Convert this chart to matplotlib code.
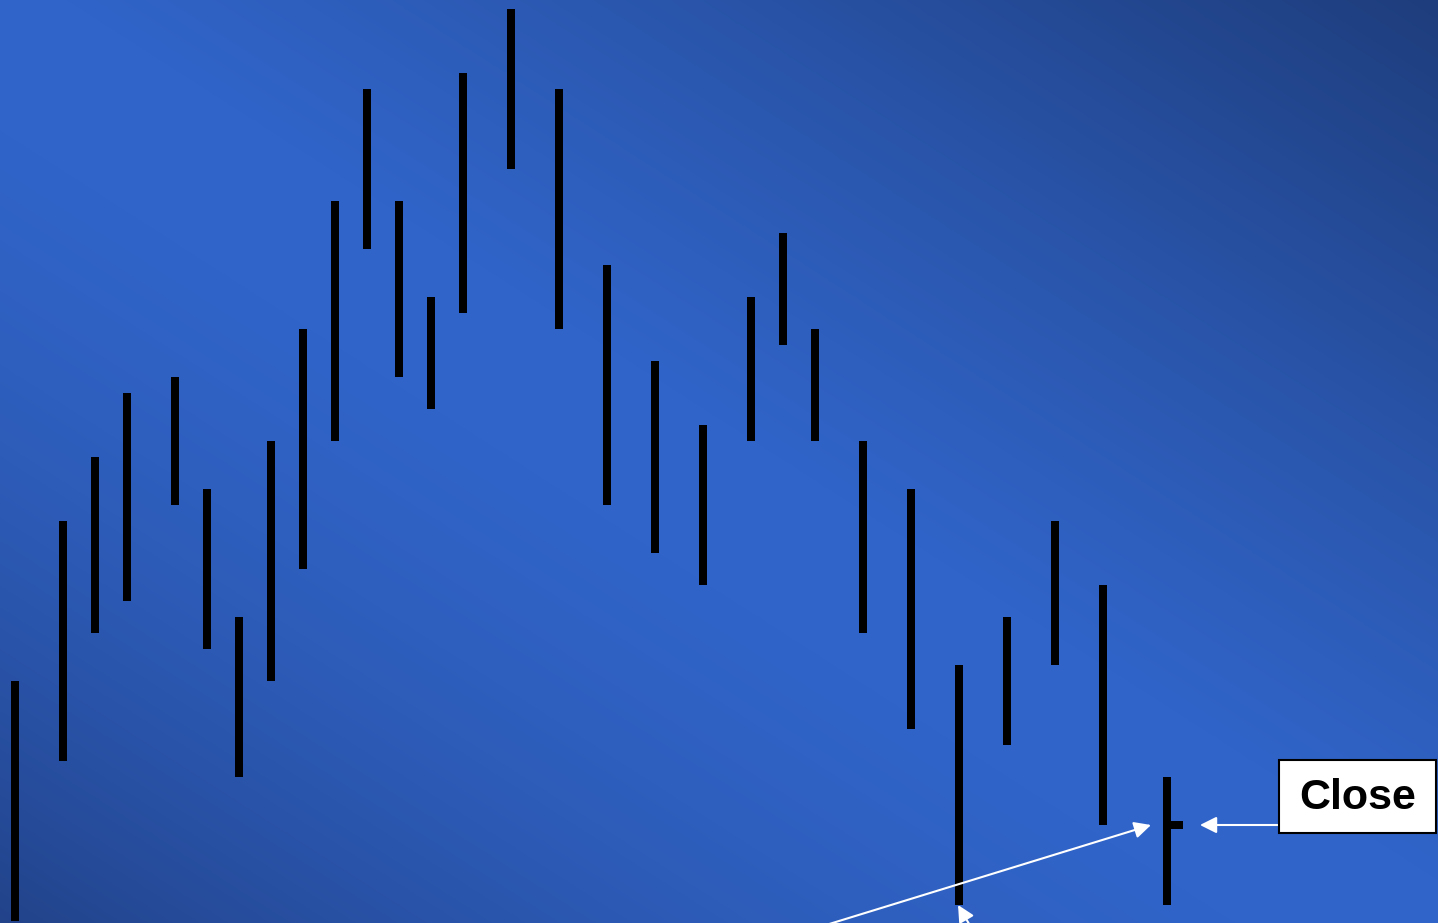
import numpy as np
import matplotlib
matplotlib.use("Agg")
import matplotlib.pyplot as plt
from matplotlib.patches import Rectangle

# =========================
# 1. 数据 (bar chart: high / low, last bar has close)
# =========================
days = [0, 3, 5, 7, 10, 12, 14, 16, 18, 20, 22, 24, 26, 28, 31,
        34, 37, 40, 43, 46, 48, 50, 53, 56, 59, 62, 65, 68, 72]
highs = [16, 26, 30, 34, 35, 28, 20, 31, 38, 46, 53, 46, 40, 54, 58,
         53, 42, 36, 32, 40, 44, 38, 31, 28, 17, 20, 26, 22, 10]
lows = [1, 11, 19, 21, 27, 18, 10, 16, 23, 31, 43, 35, 33, 39, 48,
        38, 27, 24, 22, 31, 37, 31, 19, 13, 2, 12, 17, 7, 2]
last_close = 7
label_text = "Close"

# =========================
# 2. 画布
# =========================
W, H = 1438, 923
fig = plt.figure(figsize=(W / 100, H / 100), dpi=100)
ax = fig.add_axes([0, 0, 1, 1])
ax.set_xlim(-15 / 16, (W - 15) / 16)
ax.set_ylim(0.875, 937 / 16)
ax.axis("off")

# 背景渐变：对角线附近较亮，右上和左下较暗
u = np.linspace(0, 1, W)[None, :]
v = np.linspace(0, 1, H)[:, None]
d = u - v
light = np.array([0x31, 0x65, 0xCA]) / 255
dark_tr = np.array([0x1E, 0x3D, 0x7C]) / 255
dark_bl = np.array([0x22, 0x43, 0x8A]) / 255
t_tr = np.clip(d, 0, 1) ** 1.2
t_bl = np.clip(-d, 0, 1) ** 1.8
bg = (light * (1 - t_tr[..., None] - t_bl[..., None])
      + dark_tr * t_tr[..., None] + dark_bl * t_bl[..., None])
ax.imshow(bg, extent=[0, 1, 0, 1], transform=ax.transAxes,
          aspect="auto", zorder=0)

# =========================
# 3. 柱线
# =========================
lw = 8 * 72 / 100
ax.vlines(days, lows, highs, colors="black", linewidth=lw,
          capstyle="butt", zorder=2)
ax.hlines([last_close], [days[-1]], [days[-1] + 1], colors="black",
          linewidth=lw, capstyle="butt", zorder=2)

# =========================
# 4. 标注
# =========================
arrow_kw = dict(arrowstyle="-|>,head_length=1.0,head_width=0.5",
                color="white", lw=1.5, shrinkA=0, shrinkB=0,
                mutation_scale=10)

ax.annotate("", xy=(days[-1] - 1.0, last_close), xytext=(45, -1.0),
            arrowprops=arrow_kw, annotation_clip=False, zorder=3)
ax.annotate("", xy=(days[24] - 0.06, lows[24]), xytext=(60.8, -1.2),
            arrowprops=arrow_kw, annotation_clip=False, zorder=3)
ax.annotate("", xy=(days[-1] + 2.06, last_close), xytext=(79.0, last_close),
            arrowprops=arrow_kw, annotation_clip=False, zorder=3)

box = Rectangle((1279 / W, 1 - 833 / H), (1436 - 1279) / W, (833 - 760) / H,
                transform=ax.transAxes, facecolor="white", edgecolor="black",
                linewidth=1.5, zorder=4)
ax.add_patch(box)
ax.text(1357.5 / W, 1 - 798 / H, label_text, transform=ax.transAxes,
        ha="center", va="center", fontsize=31, fontweight="bold",
        family=["Liberation Sans", "DejaVu Sans"], color="black", zorder=5)

fig.savefig("out.png", dpi=100)
